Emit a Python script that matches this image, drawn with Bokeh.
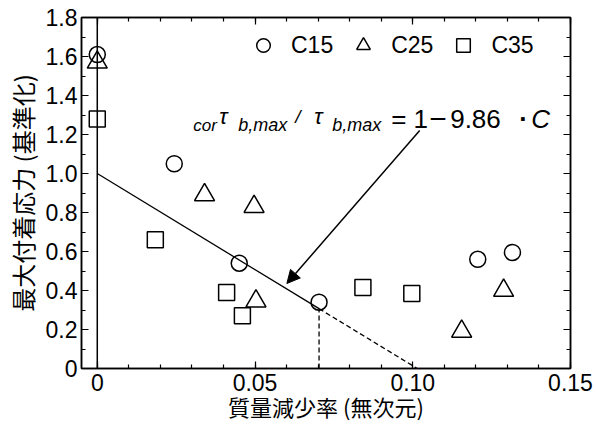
from bokeh.plotting import figure
from bokeh.models import (Range1d, LinearAxis, FixedTicker, Span, Arrow, NormalHead,
                          Label, Legend, LegendItem)
from bokeh.embed import file_html
from bokeh.resources import INLINE

# ---- data ----
c15_x = [0.0, 0.0244, 0.045, 0.0703, 0.1206, 0.1316]
c15_y = [1.61, 1.05, 0.54, 0.34, 0.56, 0.595]
c25_x = [0.0, 0.034, 0.0497, 0.0503, 0.1155, 0.1288]
c25_y = [1.57, 0.89, 0.83, 0.345, 0.19, 0.40]
c35_x = [0.0, 0.0184, 0.041, 0.046, 0.0842, 0.0997]
c35_y = [1.28, 0.66, 0.39, 0.27, 0.415, 0.385]

fit_slope = 9.86
c_crit = 0.0703

x_major = [0.0, 0.05, 0.10, 0.15]
x_labels = ["0", "0.05", "0.10", "0.15"]
x_minor = [i / 100 for i in range(0, 16)]
y_major = [0.0, 0.2, 0.4, 0.6, 0.8, 1.0, 1.2, 1.4, 1.6, 1.8]
y_labels = ["0", "0.2", "0.4", "0.6", "0.8", "1.0", "1.2", "1.4", "1.6", "1.8"]
y_minor = [i / 10 for i in range(0, 19)]

arrow_start = (0.1022, 1.22)
arrow_end = (0.0601, 0.436)
eq_anchor = (0.0304, 1.277)

FONT = "Liberation Sans"
CJK = "Noto Sans CJK JP"

p = figure(width=596, height=427,
           x_range=Range1d(-0.005, 0.15), y_range=Range1d(0, 1.8),
           output_backend="svg", toolbar_location=None,
           min_border_left=81, min_border_right=26,
           min_border_top=17, min_border_bottom=59)
p.xgrid.visible = False
p.ygrid.visible = False
p.outline_line_color = "black"
p.outline_line_width = 1.5
p.background_fill_color = "white"


def style_axis(ax, show_labels=True):
    ax.axis_line_color = "black"
    ax.axis_line_width = 1.5
    ax.major_tick_line_color = "black"
    ax.minor_tick_line_color = "black"
    ax.major_tick_line_width = 1.2
    ax.minor_tick_line_width = 1.2
    ax.major_tick_in = 7
    ax.major_tick_out = 0
    ax.minor_tick_in = 4
    ax.minor_tick_out = 0
    if show_labels:
        ax.major_label_text_font = FONT
        ax.major_label_text_font_size = "23px"
        ax.major_label_text_color = "black"
        ax.axis_label_text_font = CJK
        ax.axis_label_text_font_size = "22px"
        ax.axis_label_text_font_style = "normal"
        ax.axis_label_text_color = "black"
    else:
        ax.major_label_text_font_size = "8px"
        ax.major_label_standoff = 0


xt = FixedTicker(ticks=x_major, minor_ticks=x_minor)
yt = FixedTicker(ticks=y_major, minor_ticks=y_minor)

p.xaxis.ticker = xt
p.yaxis.ticker = yt
p.xaxis.major_label_overrides = dict(zip(x_major, x_labels))
p.yaxis.major_label_overrides = dict(zip(y_major, y_labels))
p.xaxis.axis_label = "質量減少率 (無次元)"
p.yaxis.axis_label = "最大付着応力 (基準化)"
for ax in p.xaxis + p.yaxis:
    style_axis(ax)
p.yaxis.axis_label_text_font_size = "24px"
p.xaxis.major_label_standoff = 5
p.yaxis.major_label_standoff = 4
p.xaxis.axis_label_standoff = -4
p.yaxis.axis_label_standoff = 3

top_ax = LinearAxis(ticker=FixedTicker(ticks=x_major, minor_ticks=x_minor))
style_axis(top_ax, False)
top_ax.major_label_overrides = {t: "" for t in x_major}
p.add_layout(top_ax, "above")
right_ax = LinearAxis(ticker=FixedTicker(ticks=y_major, minor_ticks=y_minor))
style_axis(right_ax, False)
right_ax.major_label_overrides = {t: "" for t in y_major}
p.add_layout(right_ax, "right")

p.add_layout(Span(location=0, dimension="height", line_color="black", line_width=1.5))

# regression line
y_crit = 1 - fit_slope * c_crit
p.line([0, c_crit], [1, y_crit], line_color="black", line_width=1.3)
p.line([c_crit, 1 / fit_slope], [y_crit, 0], line_color="black", line_width=1.3, line_dash="5 3")
p.line([c_crit, c_crit], [0, y_crit], line_color="black", line_width=1.3, line_dash="5 3")

r15 = p.scatter(c15_x, c15_y, marker="circle", size=16, fill_color=None,
                line_color="black", line_width=1.5)
r25 = p.scatter(c25_x, c25_y, marker="triangle", size=20, fill_color=None,
                line_color="black", line_width=1.5)
r35 = p.scatter(c35_x, c35_y, marker="square", size=16, fill_color=None,
                line_color="black", line_width=1.5)

legend = Legend(items=[LegendItem(label="C15", renderers=[r15]),
                       LegendItem(label="C25", renderers=[r25]),
                       LegendItem(label="C35", renderers=[r35])],
                orientation="horizontal", location=(165, 306),
                glyph_width=34, glyph_height=34, label_standoff=11, spacing=13,
                padding=4, margin=0, border_line_color=None,
                background_fill_alpha=0, label_text_font=FONT,
                label_text_font_size="23px", label_text_color="black")
p.add_layout(legend)

p.add_layout(Arrow(end=NormalHead(size=13, fill_color="black", line_color="black"),
                   x_start=arrow_start[0], y_start=arrow_start[1],
                   x_end=arrow_end[0], y_end=arrow_end[1],
                   line_color="black", line_width=1.5))

# equation pieces: (text, x offset px, y offset px, size, style, font)
eq_parts = [
    ("cor", 0, -6, "17px", "italic", FONT),
    ("τ", 26, 3, "22px", "italic", FONT),
    ("b,max", 45, -6, "18px", "italic", FONT),
    ("/", 102, 3, "19px", "italic", FONT),
    ("τ", 121, 3, "22px", "italic", FONT),
    ("b,max", 139, -6, "18px", "italic", FONT),
    ("= 1", 198, 0, "26px", "normal", FONT),
    ("−", 236, 0, "30px", "normal", FONT),
    ("9.86", 257, 0, "26px", "normal", FONT),
    ("·", 326, 0, "26px", "bold", FONT),
    ("C", 338, 0, "26px", "italic", FONT),
]
for txt, dx, dy, fs, st, fn in eq_parts:
    p.add_layout(Label(x=eq_anchor[0], y=eq_anchor[1], x_offset=dx, y_offset=dy,
                       text=txt, text_font=fn, text_font_size=fs,
                       text_font_style=st, text_color="black",
                       text_baseline="alphabetic", text_align="left"))

open("out.html", "w").write(file_html(p, INLINE))
